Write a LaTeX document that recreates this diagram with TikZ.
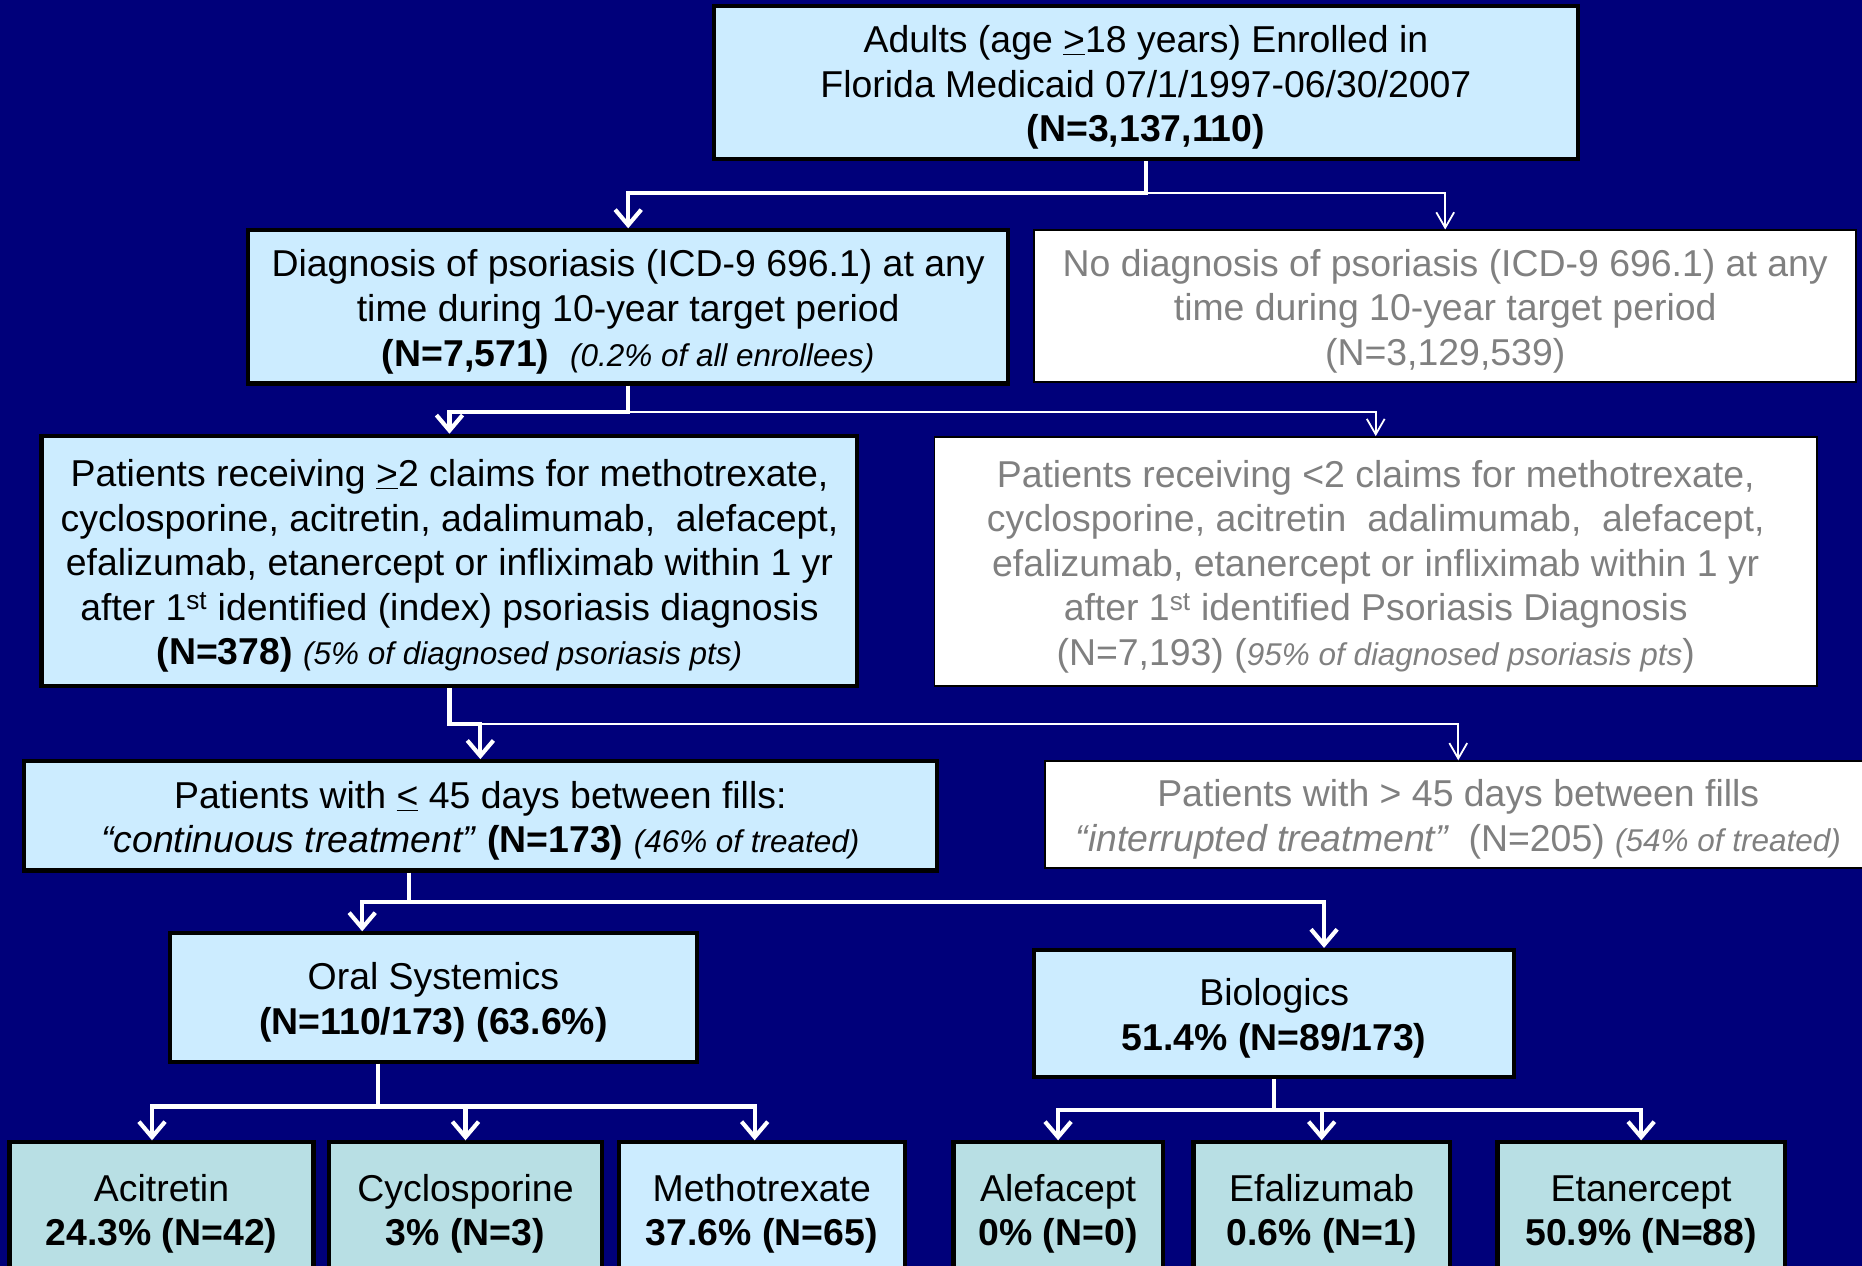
\documentclass[tikz,border=0pt]{standalone}
\usepackage{fontspec}
\setmainfont{Liberation Sans}
\usetikzlibrary{arrows.meta,calc}
\definecolor{navy}{RGB}{0,0,122}
\definecolor{lblue}{RGB}{204,236,255}
\definecolor{lteal}{RGB}{184,223,228}
\definecolor{tgray}{RGB}{128,128,128}
\newcommand{\smit}{\fontsize{26.5}{37.5}\selectfont\itshape}
\newcommand{\tstrut}{\rule{0pt}{31pt}}
\tikzset{
  boxbase/.style={inner sep=0pt, align=center, font=\fontsize{31.5}{37.5}\selectfont},
  bluebox/.style={boxbase, draw=black, line width=3.5pt, fill=lblue, text=black},
  tealbox/.style={bluebox, fill=lteal},
  graybox/.style={boxbase, draw=black, line width=1.5pt, fill=white, text=tgray},
  thickarrow/.style={draw=white, line width=3.5pt, -{Straight Barb[length=13pt,width=22pt]}},
  thinarrow/.style={draw=white, line width=1.5pt, -{Straight Barb[length=13pt,width=15pt]}},
  thickline/.style={draw=white, line width=3.5pt},
}
\begin{document}
\begin{tikzpicture}[x=1pt,y=-1pt]
\useasboundingbox (0,0) rectangle (1568,1066);
\fill[navy] (0,0) rectangle (1568,1066);
\clip (0,0) rectangle (1568,1066);

\node[bluebox, minimum width=728pt, minimum height=129pt] (top) at (965,69.5)
  {\tstrut Adults (age \underline{>}18 years) Enrolled in\\Florida Medicaid 07/1/1997-06/30/2007\\\textbf{(N=3,137,110)}};

\node[bluebox, minimum width=640pt, minimum height=129pt] (diag) at (529,258.5)
  {\tstrut Diagnosis of psoriasis (ICD-9 696.1) at any\\time during 10-year target period\\\textbf{(N=7,571)}\ \ {\smit (0.2\% of all enrollees)}};

\node[graybox, minimum width=692pt, minimum height=128pt] (nodiag) at (1217,258)
  {\tstrut No diagnosis of psoriasis (ICD-9 696.1) at any\\time during 10-year target period\\(N=3,129,539)};

\node[bluebox, minimum width=687pt, minimum height=211pt] (pos) at (378.5,472.5)
  {\tstrut Patients receiving \underline{>}2 claims for methotrexate,\\cyclosporine, acitretin, adalimumab,\ \ alefacept,\\efalizumab, etanercept or infliximab within 1 yr\\after 1\textsuperscript{st} identified (index) psoriasis diagnosis\\\textbf{(N=378)} {\smit (5\% of diagnosed psoriasis pts)}};

\node[graybox, minimum width=743pt, minimum height=210pt] (neg) at (1158.5,473)
  {\tstrut Patients receiving <2 claims for methotrexate,\\cyclosporine, acitretin\ \ adalimumab,\ \ alefacept,\\efalizumab, etanercept or infliximab within 1 yr\\after 1\textsuperscript{st} identified Psoriasis Diagnosis\\(N=7,193) ({\smit 95\% of diagnosed psoriasis pts})};

\node[bluebox, minimum width=769pt, minimum height=92pt] (cont) at (404.5,687)
  {\tstrut Patients with \underline{<} 45 days between fills:\\{\itshape “continuous treatment”} \textbf{(N=173)} {\smit (46\% of treated)}};

\node[graybox, minimum width=696pt, minimum height=90pt] (intr) at (1228,686)
  {\tstrut Patients with > 45 days between fills\\{\itshape “interrupted treatment”}\ \ (N=205) {\smit (54\% of treated)}};

\node[bluebox, minimum width=444pt, minimum height=108pt] (oral) at (365,840)
  {\tstrut Oral Systemics\\\textbf{(N=110/173) (63.6\%)}};

\node[bluebox, minimum width=404pt, minimum height=107pt] (bio) at (1073,853.5)
  {\tstrut Biologics\\\textbf{51.4\% (N=89/173)}};

\node[tealbox, minimum width=256pt, minimum height=112pt] (aci) at (136,1018)
  {\tstrut Acitretin\\\textbf{24.3\% (N=42)}};
\node[tealbox, minimum width=230pt, minimum height=112pt] (cyc) at (392,1018)
  {\tstrut Cyclosporine\\\textbf{3\% (N=3)}};
\node[bluebox, minimum width=241pt, minimum height=112pt] (met) at (641.5,1018)
  {\tstrut Methotrexate\\\textbf{37.6\% (N=65)}};
\node[tealbox, minimum width=176pt, minimum height=112pt] (ale) at (891,1018)
  {\tstrut Alefacept\\\textbf{0\% (N=0)}};
\node[tealbox, minimum width=216pt, minimum height=112pt] (efa) at (1113,1018)
  {\tstrut Efalizumab\\\textbf{0.6\% (N=1)}};
\node[tealbox, minimum width=242pt, minimum height=112pt] (eta) at (1382,1018)
  {\tstrut Etanercept\\\textbf{50.9\% (N=88)}};

% connectors
\coordinate (j1) at ($(top.south)+(0,27)$);
\draw[thinarrow] (j1) -| (nodiag.north);
\draw[thickarrow] (top.south) -- (j1) -| (diag.north);

\coordinate (j2) at ($(diag.south)+(0,22)$);
\draw[thinarrow] (j2) -| (neg.north);
\draw[thickarrow] (diag.south) -- (j2) -| (pos.north);

\coordinate (j3) at ($(pos.south)+(0,30)$);
\draw[thinarrow] (j3) -| (intr.north);
\draw[thickarrow] (pos.south) -- (j3) -| (cont.north);

\coordinate (c4) at ($(cont.south)+(-60,0)$);
\coordinate (j4) at ($(c4)+(0,25)$);
\draw[thickarrow] (c4) -- (j4) -| ([xshift=-60pt]oral.north);
\draw[thickarrow] (j4) -| ([xshift=42pt]bio.north);

\coordinate (c5) at ($(oral.south)+(-47,0)$);
\coordinate (j5) at ($(c5)+(0,36)$);
\draw[thickline] (c5) -- (j5);
\draw[thickarrow] (j5) -| ([xshift=-8pt]aci.north);
\draw[thickarrow] (j5) -| (cyc.north);
\draw[thickarrow] (j5) -| ([xshift=-6pt]met.north);

\coordinate (j6) at ($(bio.south)+(0,26)$);
\draw[thickline] (bio.south) -- (j6);
\draw[thickarrow] (j6) -| (ale.north);
\draw[thickarrow] (j6) -| (efa.north);
\draw[thickarrow] (j6) -| (eta.north);
\end{tikzpicture}
\end{document}
